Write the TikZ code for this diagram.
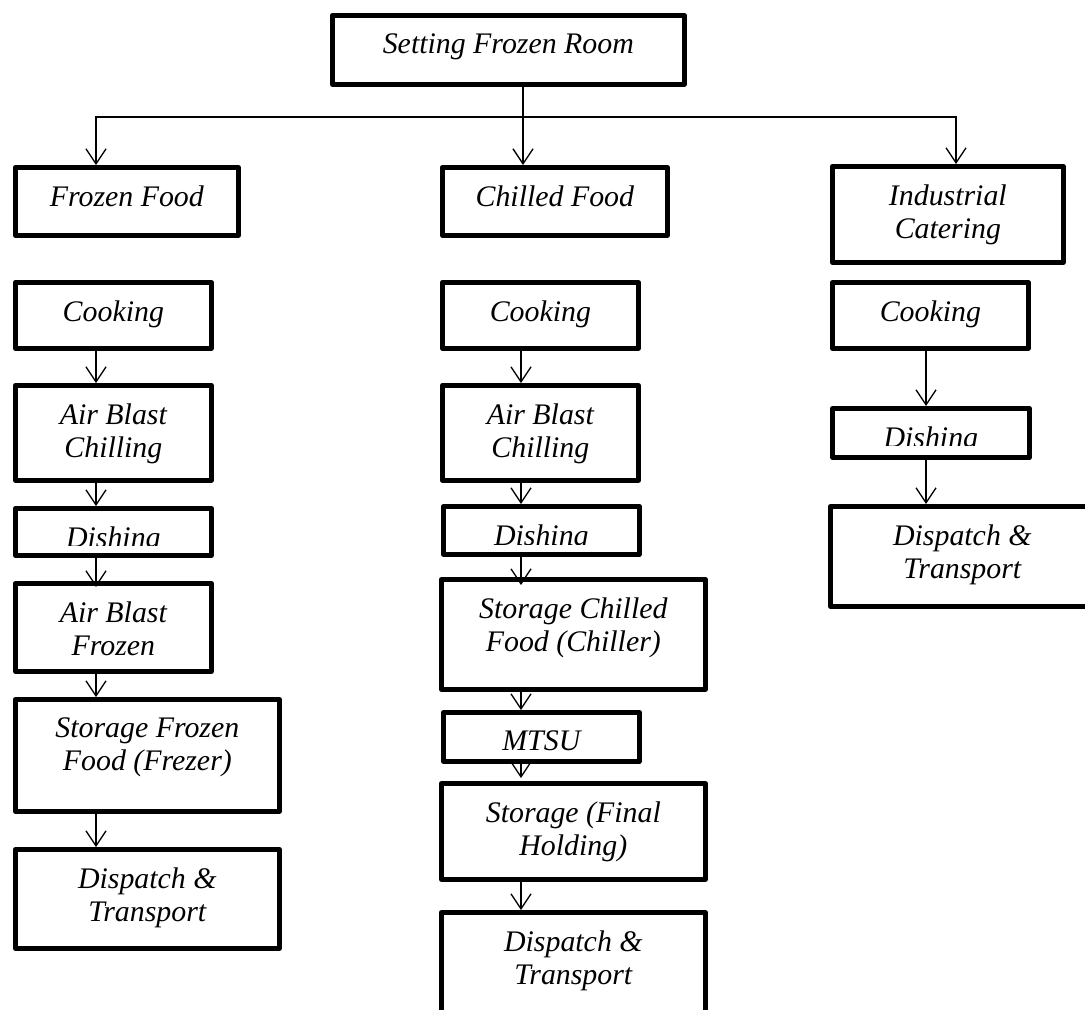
\documentclass[tikz,border=0pt]{standalone}
\usepackage{fontspec}
\setmainfont{Liberation Serif}
\usetikzlibrary{arrows.meta, positioning}

\begin{document}
\begin{tikzpicture}[
    x=0.02cm, y=-0.02cm,
    box/.style={draw, line width=0.095cm, inner sep=0pt, anchor=north west,
                line join=round},
    narrow/.style={box, minimum width=3.92cm},
    wide/.style={box, minimum width=5.28cm},
    txt/.style={anchor=north, align=center, inner sep=0pt,
                font=\fontsize{17}{18.6}\selectfont\itshape},
    flow/.style={-{Straight Barb[length=0.3cm, width=0.4cm]}, line width=0.75pt},
]
    \useasboundingbox (0, 0) rectangle (1085, 1009);

    \coordinate (colA) at (96, 0);
    \coordinate (colB) at (523, 0);
    \coordinate (colM) at (521, 0);
    \coordinate (colR) at (926, 0);
    \coordinate (colC) at (956, 0);
    \coordinate (bus) at (0, 117);

    \node[box, minimum width=7.04cm, minimum height=1.38cm] (setting) at (330, 13) {};
    \node[box, minimum width=4.46cm, minimum height=1.36cm] (frozen) at (13, 165) {};
    \node[box, minimum width=4.5cm, minimum height=1.36cm] (chilled) at (440, 165) {};
    \node[box, minimum width=4.62cm, minimum height=1.92cm] (industrial) at (830, 164) {};

    \node[narrow, minimum height=1.32cm] (cookA) at (13, 280) {};
    \node[narrow, minimum height=1.9cm] (chillA) at (13, 383) {};
    \node[narrow, minimum height=0.94cm] (dishA) at (13, 506) {};
    \node[narrow, minimum height=1.76cm] (blastA) at (13, 581) {};
    \node[wide, minimum height=2.24cm] (storeA) at (13, 697) {};
    \node[wide, minimum height=1.98cm] (sendA) at (13, 847) {};

    \node[narrow, minimum height=1.32cm] (cookB) at (440, 280) {};
    \node[narrow, minimum height=1.9cm] (chillB) at (440, 383) {};
    \node[narrow, minimum height=0.96cm] (dishB) at (441, 504) {};
    \node[wide, minimum height=2.2cm] (storeB) at (439, 577) {};
    \node[narrow, minimum height=0.98cm] (mtsu) at (441, 710) {};
    \node[wide, minimum height=1.92cm] (holdB) at (439, 781) {};
    \node[wide, minimum height=2cm] (sendB) at (439, 910) {};

    \node[narrow, minimum height=1.32cm] (cookC) at (830, 280) {};
    \node[box, minimum width=3.94cm, minimum height=0.98cm] (dishC) at (830, 406) {};
    \node[wide, minimum height=2cm] (sendC) at (828, 504) {};

    \node[txt, below=0.41cm of setting.north] (setting-txt) {Setting Frozen Room};
    \node[txt, below=0.41cm of frozen.north] (frozen-txt) {Frozen Food};
    \node[txt, below=0.41cm of chilled.north] (chilled-txt) {Chilled Food};
    \node[txt, below=0.41cm of industrial.north] (industrial-txt) {Industrial\\Catering};

    \node[txt, below=0.41cm of cookA.north] (cookA-txt) {Cooking};
    \node[txt, below=0.41cm of chillA.north] (chillA-txt) {Air Blast\\Chilling};
    \node[txt, below=0.41cm of blastA.north] (blastA-txt) {Air Blast\\Frozen};
    \node[txt, below=0.41cm of storeA.north] (storeA-txt) {Storage Frozen\\Food (Frezer)};
    \node[txt, below=0.41cm of sendA.north] (sendA-txt) {Dispatch \&\\Transport};

    \node[txt, below=0.41cm of cookB.north] (cookB-txt) {Cooking};
    \node[txt, below=0.41cm of chillB.north] (chillB-txt) {Air Blast\\Chilling};
    \node[txt, below=0.41cm of storeB.north] (storeB-txt) {Storage Chilled\\Food (Chiller)};
    \node[txt, below=0.41cm of mtsu.north] (mtsu-txt) {MTSU};
    \node[txt, below=0.41cm of holdB.north] (holdB-txt) {Storage (Final\\Holding)};
    \node[txt, below=0.41cm of sendB.north] (sendB-txt) {Dispatch \&\\Transport};

    \node[txt, below=0.41cm of cookC.north] (cookC-txt) {Cooking};
    \node[txt, below=0.41cm of sendC.north] (sendC-txt) {Dispatch \&\\Transport};

    \begin{scope}
        \clip (dishA.north west) rectangle ([yshift=-0.79cm]dishA.north east);
        \node[txt, below=0.41cm of dishA.north] (dishA-txt) {Dishing};
    \end{scope}
    \begin{scope}
        \clip (dishB.north west) rectangle ([yshift=-0.8cm]dishB.north east);
        \node[txt, below=0.41cm of dishB.north] (dishB-txt) {Dishing};
    \end{scope}
    \begin{scope}
        \clip (dishC.north west) rectangle ([yshift=-0.79cm]dishC.north east);
        \node[txt, below=0.41cm of dishC.north] (dishC-txt) {Dishing};
    \end{scope}

    \draw[flow] (setting.south -| colB) -- (chilled.north -| colB);
    \draw[flow] (bus -| colB) -| (frozen.north -| colA);
    \draw[flow] (bus -| colB) -| (industrial.north -| colC);

    \draw[flow] (cookA.south -| colA) -- (chillA.north -| colA);
    \draw[flow] (chillA.south -| colA) -- (dishA.north -| colA);
    \draw[flow, shorten >=-0.12cm] (dishA.south -| colA) -- (blastA.north -| colA);
    \draw[flow] (blastA.south -| colA) -- (storeA.north -| colA);
    \draw[flow] (storeA.south -| colA) -- (sendA.north -| colA);

    \draw[flow] (cookB.south -| colM) -- (chillB.north -| colM);
    \draw[flow] (chillB.south -| colM) -- (dishB.north -| colM);
    \draw[flow, shorten >=-0.16cm] (dishB.south -| colM) -- (storeB.north -| colM);
    \draw[flow] (storeB.south -| colM) -- (mtsu.north -| colM);
    \draw[flow, shorten >=0.06cm] (mtsu.south -| colM) -- (holdB.north -| colM);
    \draw[flow] (holdB.south -| colM) -- (sendB.north -| colM);

    \draw[flow] (cookC.south -| colR) -- (dishC.north -| colR);
    \draw[flow] (dishC.south -| colR) -- (sendC.north -| colR);
\end{tikzpicture}
\end{document}
